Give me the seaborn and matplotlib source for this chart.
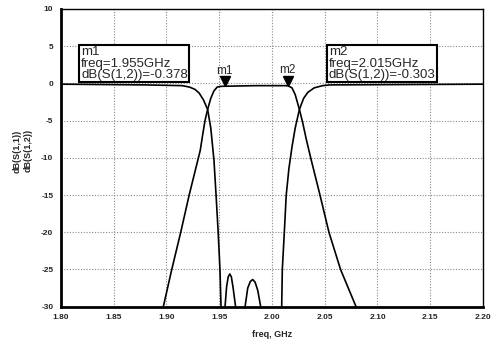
import numpy as np
import pandas as pd
import matplotlib
matplotlib.use("Agg")
import matplotlib.pyplot as plt
import matplotlib.transforms as mtransforms
from matplotlib.ticker import MultipleLocator, FormatStrFormatter
import seaborn as sns

# --- data ---
freq_s12 = [1.897, 1.905, 1.9135, 1.9215, 1.932, 1.9342, 1.9365, 1.939, 1.942, 1.945,
            1.948, 1.951, 1.955, 1.985, 2.015, 2.019, 2.022, 2.024, 2.026, 2.029,
            2.0325, 2.0367, 2.0455, 2.054, 2.065, 2.0797]
db_s12 = [-30, -25, -20, -15, -9, -7, -5, -3.5, -2.0, -1.0,
          -0.5, -0.4, -0.378, -0.3, -0.303, -0.6, -1.5, -2.5, -3.5, -5.2,
          -7.5, -10, -15, -20, -25, -30]

freq_s11 = [1.80, 1.88, 1.915, 1.922, 1.927, 1.931, 1.935, 1.939, 1.942, 1.945,
            1.947, 1.949, 1.9507, 1.9517, 1.953, 1.9555, 1.957, 1.9585, 1.960, 1.9615,
            1.963, 1.9655, 1.970, 1.9745, 1.977, 1.9795, 1.9817, 1.984, 1.9865, 1.9893,
            1.999, 2.0092, 2.0098, 2.0117, 2.0135, 2.016, 2.019, 2.022, 2.026,
            2.030, 2.034, 2.040, 2.048, 2.055, 2.20]
db_s11 = [-0.1, -0.2, -0.3, -0.5, -0.8, -1.3, -2.2, -3.5, -6.0, -10.3,
          -15, -20, -25, -30, -34, -30, -27.3, -26.0, -25.6, -26.0,
          -27.3, -30, -34, -30, -27.5, -26.6, -26.35, -26.7, -27.8, -30,
          -38, -30, -25, -20, -15, -11.5, -8.5, -6.0, -3.5,
          -2.0, -1.2, -0.6, -0.3, -0.2, -0.1]

x_ticks = [1.80, 1.85, 1.90, 1.95, 2.00, 2.05, 2.10, 2.15, 2.20]
y_ticks = [10, 5, 0, -5, -10, -15, -20, -25, -30]

markers = ["m1", "m2"]
marker_freq = [1.955, 2.015]
marker_db = [-0.378, -0.303]
marker_text = ["m1\nfreq=1.955GHz\ndB(S(1,2))=-0.378",
               "m2\nfreq=2.015GHz\ndB(S(1,2))=-0.303"]
box_pos = [(1.819, 0.35), (2.054, 0.35)]

df = pd.concat([
    pd.DataFrame({"freq": freq_s12, "dB": db_s12, "trace": "dB(S(1,2))"}),
    pd.DataFrame({"freq": freq_s11, "dB": db_s11, "trace": "dB(S(1,1))"}),
])

sns.set_style("white")
plt.rcParams["font.family"] = ["Liberation Sans", "DejaVu Sans"]

fig = plt.figure(figsize=(4.99, 3.43), dpi=100)
ax = fig.add_axes([0.1222, 0.1058, 0.8457, 0.868])

sns.lineplot(data=df, x="freq", y="dB", units="trace", estimator=None, sort=False,
             color="black", linewidth=1.2, ax=ax, legend=False)

ax.set_xlim(1.80, 2.20)
ax.set_ylim(-30, 10)
ax.set_xticks(x_ticks)
ax.set_yticks(y_ticks)
ax.xaxis.set_major_formatter(FormatStrFormatter("%.2f"))
ax.yaxis.set_major_formatter(FormatStrFormatter("%d"))
ax.xaxis.set_minor_locator(MultipleLocator(0.01))
ax.yaxis.set_minor_locator(MultipleLocator(1))
ax.tick_params(axis="both", which="major", direction="inout", length=5, width=1.2,
               labelsize=6, color="black", pad=3)
ax.tick_params(axis="both", which="minor", direction="inout", length=3, width=1,
               color="black")
for lab in ax.get_xticklabels() + ax.get_yticklabels():
    lab.set_fontweight("bold")

ax.grid(True, which="major", color="#888888", linestyle=(0, (1, 1.5)), linewidth=0.8)
for side in ["top", "right"]:
    ax.spines[side].set_visible(True)
    ax.spines[side].set_color("black")
    ax.spines[side].set_linewidth(1.0)
for side in ["left", "bottom"]:
    ax.spines[side].set_color("black")
    ax.spines[side].set_linewidth(2.0)

ax.set_xlabel("freq, GHz", fontsize=6.5, fontweight="bold", labelpad=6)
ax.set_ylabel("")
fig.text(0.035, 0.56, "dB(S(1,1))", rotation=90, fontsize=6.5, fontweight="bold",
         ha="center", va="center")
fig.text(0.056, 0.56, "dB(S(1,2))", rotation=90, fontsize=6.5, fontweight="bold",
         ha="center", va="center")

# markers
trans_up = mtransforms.offset_copy(ax.transData, fig=fig, y=3.5, units="points")
for name, fx, fy in zip(markers, marker_freq, marker_db):
    ax.plot([fx], [fy], marker="v", markersize=7, color="black", transform=trans_up,
            clip_on=False)
    ax.annotate(name, (fx, fy), xytext=(0, 7), textcoords="offset points",
                ha="center", va="bottom", fontsize=8.5)

for txt, (bx, by) in zip(marker_text, box_pos):
    ax.text(bx, by, txt, fontsize=9.5, ha="left", va="bottom", linespacing=0.92,
            bbox=dict(boxstyle="square,pad=0.12", facecolor="white",
                      edgecolor="black", linewidth=1.5))

fig.savefig("out.png", dpi=100, facecolor="white")
